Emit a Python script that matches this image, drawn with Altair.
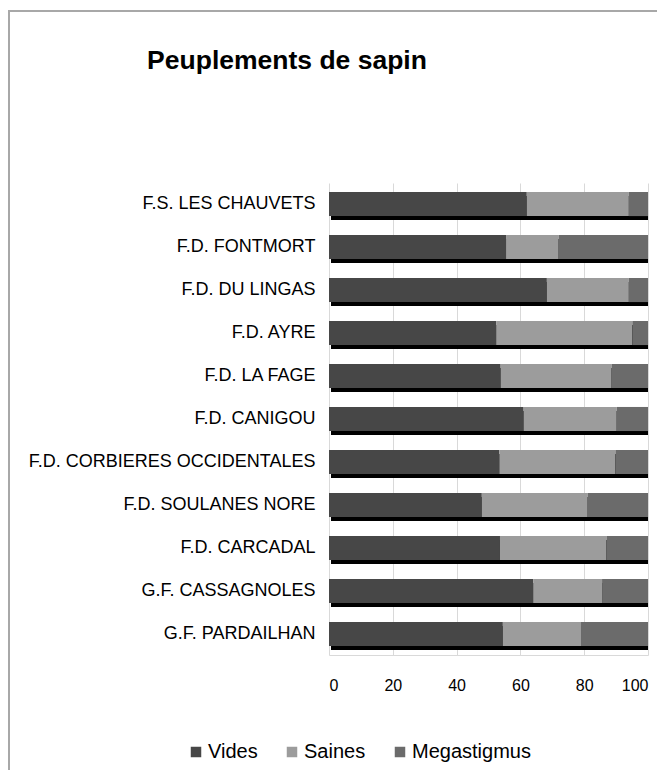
import altair as alt
import pandas as pd

sites = ["F.S. LES CHAUVETS", "F.D. FONTMORT", "F.D. DU LINGAS", "F.D. AYRE",
         "F.D. LA FAGE", "F.D. CANIGOU", "F.D. CORBIERES OCCIDENTALES",
         "F.D. SOULANES NORE", "F.D. CARCADAL", "G.F. CASSAGNOLES", "G.F. PARDAILHAN"]
vides = [62, 55.5, 68.3, 52.4, 53.8, 61, 53.4, 47.9, 53.6, 64, 54.5]
saines = [32, 16.5, 25.7, 42.7, 34.8, 29.2, 36.4, 33.2, 33.4, 21.6, 24.5]
mega = [6, 28, 6, 4.9, 11.4, 9.8, 10.2, 18.9, 13, 14.4, 21]
series = ["Vides", "Saines", "Megastigmus"]
colors = ["#474747", "#9c9c9c", "#6b6b6b"]
x_ticks = [0, 20, 40, 60, 80, 100]
title_text = "Peuplements de sapin"

rows = []
for i, s in enumerate(sites):
    for k, (name, vals) in enumerate(zip(series, [vides, saines, mega])):
        rows.append({"site": s, "serie": name, "value": vals[i], "ord": k})
df = pd.DataFrame(rows)
tot = pd.DataFrame({"site": sites,
                    "start": [0] * len(sites),
                    "total": [a + b + c for a, b, c in zip(vides, saines, mega)]})

FONT = "Liberation Sans"
yscale = alt.Scale(domain=sites, paddingInner=0.44, paddingOuter=0.21)
xscale = alt.Scale(domain=[0, 100], nice=False)

one = alt.Data(values=[{"t": title_text}])
frame_left = alt.Chart(one).mark_rule(stroke="#a8a8a8", strokeWidth=2).encode(
    x=alt.value(-320), y=alt.value(-172), y2=alt.value(591))
frame_top = alt.Chart(one).mark_rule(stroke="#a8a8a8", strokeWidth=2).encode(
    x=alt.value(-321), x2=alt.value(328), y=alt.value(-172))
title = alt.Chart(one).mark_text(font=FONT, fontSize=26.5, fontWeight="bold",
                                 color="#000000", align="center",
                                 baseline="alphabetic").encode(
    text="t:N", x=alt.value(-42), y=alt.value(-114))

shadow = alt.Chart(tot).mark_bar(color="#000000", xOffset=2, yOffset=4).encode(
    y=alt.Y("site:N", scale=yscale, sort=sites),
    x=alt.X("start:Q", scale=xscale),
    x2="total:Q",
)

bars = alt.Chart(df).mark_bar().encode(
    y=alt.Y("site:N", scale=yscale, sort=sites,
            axis=alt.Axis(title=None, domain=False, ticks=False, labelPadding=14,
                          labelFontSize=18, labelFont=FONT, labelColor="#000000",
                          labelLimit=400)),
    x=alt.X("value:Q", stack="zero", scale=xscale,
            axis=alt.Axis(title=None, values=x_ticks, grid=True, gridColor="#d9d9d9",
                          domainColor="#d9d9d9", ticks=False, labelPadding=22,
                          labelFontSize=16, labelFont=FONT, labelColor="#000000")),
    color=alt.Color("serie:N", scale=alt.Scale(domain=series, range=colors),
                    legend=alt.Legend(title=None, orient="none", direction="horizontal",
                                      legendX=-143, legendY=559, padding=0,
                                      symbolType="square",
                                      symbolSize=110, symbolStrokeWidth=0,
                                      labelFontSize=20, labelFont=FONT,
                                      labelColor="#000000", columnPadding=24,
                                      labelOffset=2)),
    order=alt.Order("ord:Q"),
)

chart = alt.layer(frame_left, frame_top, title, shadow, bars).properties(
    width=319, height=472,
    autosize=alt.AutoSizeParams(type="none"),
    padding={"left": 321, "top": 175, "right": 9, "bottom": 115},
    background="#ffffff",
).configure_view(stroke=None)

chart.save("out.html", embed_options={"renderer": "svg", "actions": False})
